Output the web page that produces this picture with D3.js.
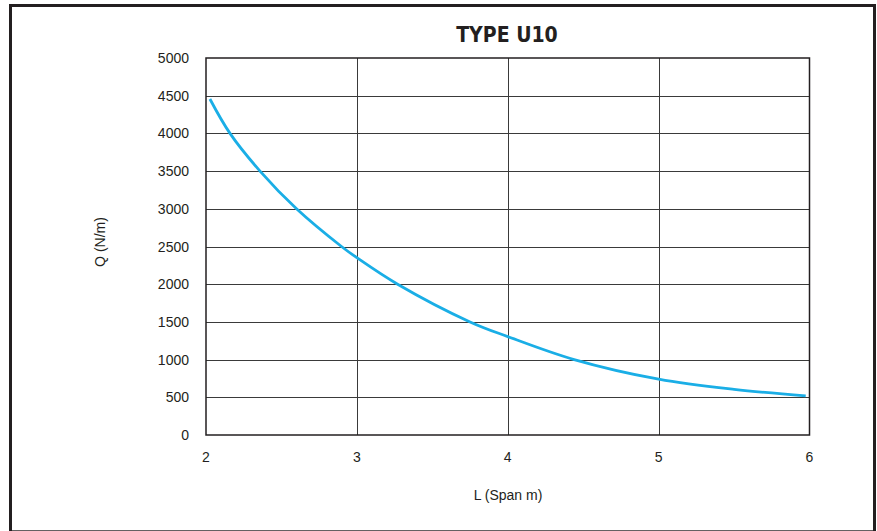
<!DOCTYPE html>
<html>
<head>
  <title>TYPE U10</title>
  <script src="https://d3js.org/d3.v7.min.js"></script>
  <style>
    body { margin: 0; background: #fff; }
  </style>
</head>
<body>
  <div id="chart"></div>

  <script>
    // data
    const spans = [2.026, 2.159, 2.358, 2.6, 2.898, 3.0, 3.27, 3.75, 4.0, 4.44, 5.0, 5.5, 5.975];
    const loads = [4456, 4000, 3500, 3000, 2500, 2352, 2000, 1500, 1305, 1000, 740, 605, 520];
    const xTicks = [2, 3, 4, 5, 6];
    const yTicks = [0, 500, 1000, 1500, 2000, 2500, 3000, 3500, 4000, 4500, 5000];

    const width = 877, height = 531;
    const svg = d3.select("#chart")
      .append("svg")
      .attr("width", width)
      .attr("height", height);

    // outer frame (bottom edge falls just off the picture)
    svg.append("rect")
      .attr("x", 10.5).attr("y", 5.5)
      .attr("width", 864).attr("height", 526.3)
      .attr("fill", "none")
      .attr("stroke", "#231f20")
      .attr("stroke-width", 3);

    const x = d3.scaleLinear().domain([2, 6]).range([206, 809.5]);
    const y = d3.scaleLinear().domain([0, 5000]).range([435, 58]);

    // grid
    svg.append("g")
      .selectAll("line")
      .data(yTicks.slice(1, -1))
      .join("line")
      .attr("x1", x(2)).attr("x2", x(6))
      .attr("y1", d => Math.round(y(d)) + 0.5).attr("y2", d => Math.round(y(d)) + 0.5)
      .attr("stroke", "#3a3a3a")
      .attr("stroke-width", 1);

    svg.append("g")
      .selectAll("line")
      .data(xTicks.slice(1, -1))
      .join("line")
      .attr("y1", y(0)).attr("y2", y(5000))
      .attr("x1", d => Math.round(x(d)) + 0.5).attr("x2", d => Math.round(x(d)) + 0.5)
      .attr("stroke", "#3a3a3a")
      .attr("stroke-width", 1);

    // plot border
    svg.append("rect")
      .attr("x", x(2)).attr("y", y(5000))
      .attr("width", x(6) - x(2)).attr("height", y(0) - y(5000))
      .attr("fill", "none")
      .attr("stroke", "#231f20")
      .attr("stroke-width", 1.5);

    // tick labels
    svg.append("g")
      .selectAll("text")
      .data(yTicks)
      .join("text")
      .attr("x", 189)
      .attr("y", d => y(d) + 5)
      .attr("text-anchor", "end")
      .attr("font-family", "Liberation Sans, Arial, sans-serif")
      .attr("font-size", 14)
      .attr("fill", "#231f20")
      .text(d => d);

    svg.append("g")
      .selectAll("text")
      .data(xTicks)
      .join("text")
      .attr("x", d => x(d))
      .attr("y", 462)
      .attr("text-anchor", "middle")
      .attr("font-family", "Liberation Sans, Arial, sans-serif")
      .attr("font-size", 14)
      .attr("fill", "#231f20")
      .text(d => d);

    // axis titles
    svg.append("text")
      .attr("x", 508).attr("y", 500)
      .attr("text-anchor", "middle")
      .attr("font-family", "Liberation Sans, Arial, sans-serif")
      .attr("font-size", 14)
      .attr("fill", "#231f20")
      .text("L (Span m)");

    svg.append("text")
      .attr("transform", "translate(105,242) rotate(-90)")
      .attr("text-anchor", "middle")
      .attr("font-family", "Liberation Sans, Arial, sans-serif")
      .attr("font-size", 14)
      .attr("fill", "#231f20")
      .text("Q (N/m)");

    svg.append("text")
      .attr("x", 507).attr("y", 42)
      .attr("text-anchor", "middle")
      .attr("font-family", "DejaVu Sans Condensed, DejaVu Sans, sans-serif")
      .attr("font-weight", "bold")
      .attr("font-size", 21)
      .attr("fill", "#231f20")
      .text("TYPE U10");

    // curve
    const line = d3.line()
      .x((d, i) => x(spans[i]))
      .y(d => y(d))
      .curve(d3.curveCatmullRom.alpha(0.5));

    svg.append("path")
      .datum(loads)
      .attr("d", line)
      .attr("fill", "none")
      .attr("stroke", "#1aaee6")
      .attr("stroke-width", 2.8);
  </script>
</body>
</html>
